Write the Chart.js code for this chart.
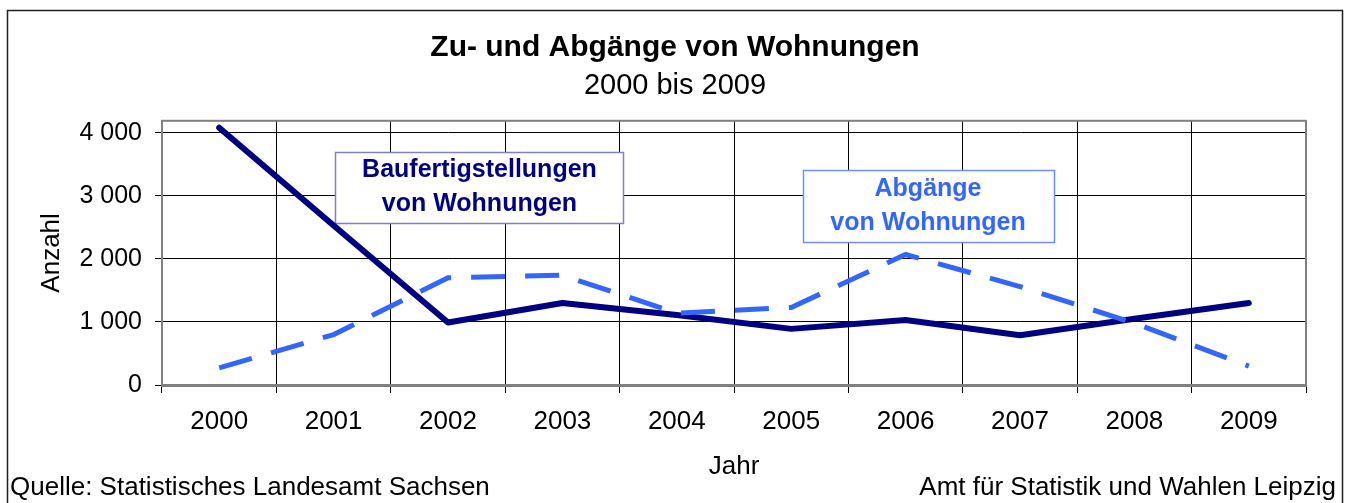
<!DOCTYPE html>
<html lang="de">
<head>
<meta charset="utf-8">
<title>Zu- und Abgänge von Wohnungen</title>
<script src="https://cdn.jsdelivr.net/npm/chart.js@4.4.1/dist/chart.umd.min.js"></script>
<style>
  html, body { margin: 0; padding: 0; background: #fff; }
</style>
</head>
<body>
<canvas id="chart" width="1350" height="503"></canvas>
<script>
// Daten
const jahre = ["2000", "2001", "2002", "2003", "2004", "2005", "2006", "2007", "2008", "2009"];
const baufertigstellungen = [4080, 2530, 990, 1300, 1110, 890, 1030, 790, 1050, 1300];
const abgaenge = [270, 800, 1700, 1740, 1140, 1230, 2070, 1560, 980, 300];
const yTicks = [0, 1000, 2000, 3000, 4000];

const schrift = "Arial, 'Liberation Sans', sans-serif";

function tausender(v) {
  return String(v).replace(/\B(?=(\d{3})+(?!\d))/g, " ");
}

// Textkästen im Diagramm, verankert an Kategorie/Wert
const kaesten = [
  { zeilen: ["Baufertigstellungen", "von Wohnungen"], idx: 2.275, wert: 3135, breite: 288, hoehe: 71, farbe: "#000080", rahmen: "#8080c0" },
  { zeilen: ["Abgänge", "von Wohnungen"], idx: 6.196, wert: 2833, breite: 251, hoehe: 72, farbe: "#3366ff", rahmen: "#6b8fff" },
];

const rahmenPlugin = {
  id: "rahmen",
  beforeDatasetsDraw(chart) {
    const { ctx, chartArea: a, scales } = chart;
    ctx.save();
    ctx.strokeStyle = "#808080";
    ctx.lineWidth = 2;
    ctx.strokeRect(a.left, a.top, a.right - a.left, a.bottom - a.top);

    kaesten.forEach((k) => {
      const cx = scales.x.getPixelForValue(k.idx);
      const cy = scales.y.getPixelForValue(k.wert);
      const x0 = Math.round(cx - k.breite / 2) + 0.5;
      const y0 = Math.round(cy - k.hoehe / 2) + 0.5;
      ctx.fillStyle = "#fff";
      ctx.fillRect(x0, y0, k.breite, k.hoehe);
      ctx.strokeStyle = k.rahmen;
      ctx.lineWidth = 1.5;
      ctx.strokeRect(x0, y0, k.breite, k.hoehe);
      ctx.fillStyle = k.farbe;
      ctx.font = "bold 25px " + schrift;
      ctx.textAlign = "center";
      ctx.textBaseline = "middle";
      ctx.fillText(k.zeilen[0], cx, cy - 17);
      ctx.fillText(k.zeilen[1], cx, cy + 17);
    });
    ctx.restore();
  },
  afterDraw(chart) {
    const { ctx } = chart;
    ctx.save();
    ctx.strokeStyle = "#202020";
    ctx.lineWidth = 1.5;
    ctx.strokeRect(7.5, 10.5, 1335, 520);
    ctx.fillStyle = "#000";
    ctx.font = "26px " + schrift;
    ctx.textBaseline = "middle";
    ctx.textAlign = "left";
    ctx.fillText("Quelle: Statistisches Landesamt Sachsen", 10, 488);
    ctx.textAlign = "right";
    ctx.fillText("Amt für Statistik und Wahlen Leipzig", 1336, 488);
    ctx.restore();
  },
};

const ctx = document.getElementById("chart").getContext("2d");
const chart = new Chart(ctx, {
  type: "line",
  data: {
    labels: jahre,
    datasets: [
      {
        label: "Baufertigstellungen von Wohnungen",
        data: baufertigstellungen,
        borderColor: "#000080",
        borderWidth: 6,
        borderCapStyle: "round",
        borderJoinStyle: "round",
        pointRadius: 0,
        tension: 0,
        fill: false,
        order: 1,
      },
      {
        label: "Abgänge von Wohnungen",
        data: abgaenge,
        borderColor: "#3366ff",
        borderWidth: 5,
        borderDash: [34, 20],
        borderCapStyle: "butt",
        pointRadius: 0,
        tension: 0,
        fill: false,
        order: 0,
      },
    ],
  },
  options: {
    responsive: false,
    animation: false,
    layout: { padding: 0 },
    plugins: {
      legend: { display: false },
      tooltip: { enabled: false },
      title: {
        display: true,
        text: "Zu- und Abgänge von Wohnungen",
        color: "#000",
        font: { family: schrift, size: 30, weight: "bold" },
        padding: { top: 30, bottom: 0 },
      },
      subtitle: {
        display: true,
        text: "2000 bis 2009",
        color: "#000",
        font: { family: schrift, size: 29 },
        padding: { top: 3, bottom: 17 },
      },
    },
    scales: {
      x: {
        offset: true,
        afterFit(scale) { scale.height = 118; },
        grid: { offset: true, color: "#000", lineWidth: 1, tickLength: 8, tickColor: "#000" },
        border: { color: "#808080", width: 3 },
        ticks: { color: "#000", font: { family: schrift, size: 26 }, padding: 13, maxRotation: 0 },
        title: {
          display: true,
          text: "Jahr",
          color: "#000",
          font: { family: schrift, size: 26 },
          padding: { top: 0, bottom: 21 },
        },
      },
      y: {
        min: 0,
        max: 4190,
        afterFit(scale) { scale.width = 162; },
        afterBuildTicks(scale) { scale.ticks = yTicks.map((v) => ({ value: v })); },
        grid: { color: "#000", lineWidth: 1, tickLength: 7, tickColor: "#000" },
        border: { color: "#808080", width: 2 },
        ticks: {
          color: "#000",
          font: { family: schrift, size: 25 },
          padding: 13,
          callback: (v) => tausender(v),
        },
        title: {
          display: true,
          text: "Anzahl",
          color: "#000",
          font: { family: schrift, size: 26 },
          padding: { top: 36, bottom: 0 },
        },
      },
      // leerer Rand rechts, damit der Titel über der ganzen Breite zentriert bleibt
      rand: {
        type: "linear",
        position: "right",
        afterFit(scale) { scale.width = 44; },
        grid: { display: false },
        border: { display: false },
        ticks: { display: false },
      },
    },
  },
  plugins: [rahmenPlugin],
});
</script>
</body>
</html>
